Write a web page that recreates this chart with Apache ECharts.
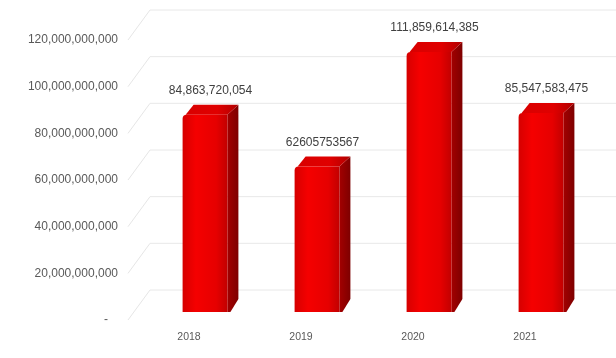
<!DOCTYPE html>
<html>
<head>
<meta charset="utf-8">
<script src="https://cdn.jsdelivr.net/npm/echarts@6/dist/echarts.min.js"></script>
<style>
  html, body { margin: 0; padding: 0; background: #ffffff; }
  #chart { width: 616px; height: 358px; }
</style>
</head>
<body>
<div id="chart"></div>
<script>
// Yearly totals
const years = ['2018', '2019', '2020', '2021'];
const totals = [84863720054, 62605753567, 111859614385, 85547583475];
// Value-axis ticks
const axisTicks = [0, 20000000000, 40000000000, 60000000000, 80000000000, 100000000000, 120000000000];

const fmt = v => v.toLocaleString('en-US');
// 2019 is printed without separators in its data label
const rawLabelYears = ['2019'];

const DEPTH_X = 11, DEPTH_Y = 10;      // bar extrusion
const WALL_X = 22, WALL_Y = 30;        // back-wall offset
const FONT = '"Liberation Sans", Arial, sans-serif';

const chart = echarts.init(document.getElementById('chart'), null, { renderer: 'canvas' });

function renderWall(params, api) {
  const p = api.coord([0, api.value(0)]);
  const x2 = p[0] + WALL_X, y2 = p[1] - WALL_Y;
  return {
    type: 'group',
    children: [
      { type: 'line', shape: { x1: p[0], y1: p[1], x2: x2, y2: y2 },
        style: { stroke: '#e6e6e6', lineWidth: 1 } },
      { type: 'line', shape: { x1: x2, y1: y2, x2: params.coordSys.x + params.coordSys.width, y2: y2 },
        style: { stroke: '#e8e8e8', lineWidth: 1 } }
    ]
  };
}

function renderBar(params, api) {
  const idx = api.value(0);
  const v = api.value(1);
  const top = api.coord([idx, v]);
  const base = api.coord([idx, 0]);
  const band = api.size([1, 0])[0];
  const w = band * 0.4;
  const left = top[0] - w / 2, right = top[0] + w / 2;
  const t = top[1], b = base[1];
  const label = rawLabelYears.indexOf(years[idx]) >= 0 ? String(v) : fmt(v);
  return {
    type: 'group',
    children: [
      { type: 'polygon',
        shape: { points: [[right, t], [right + DEPTH_X, t - DEPTH_Y], [right + DEPTH_X, b - DEPTH_Y - 3], [right + 3, b], [right, b]] },
        style: { fill: new echarts.graphic.LinearGradient(0, 0, 1, 0, [
          { offset: 0, color: '#a30000' }, { offset: 1, color: '#7e0000' }]) } },
      { type: 'polygon',
        shape: { points: [[left + 3, t], [left + DEPTH_X, t - DEPTH_Y], [right + DEPTH_X, t - DEPTH_Y], [right, t]] },
        style: { fill: new echarts.graphic.LinearGradient(0, 0, 1, 0, [
          { offset: 0, color: '#d90000' }, { offset: 0.6, color: '#e00000' }, { offset: 1, color: '#b00000' }]) } },
      { type: 'rect',
        shape: { x: left, y: t, width: w, height: b - t, r: [4, 0, 0, 0] },
        style: { fill: new echarts.graphic.LinearGradient(0, 0, 1, 0, [
          { offset: 0, color: '#d60000' }, { offset: 0.3, color: '#f50000' },
          { offset: 0.75, color: '#e60000' }, { offset: 1, color: '#c20000' }]) } },
      { type: 'text',
        style: { text: label, x: top[0] + DEPTH_X / 2, y: t - DEPTH_Y - 8,
          align: 'center', verticalAlign: 'bottom',
          fill: '#404040', font: '12px ' + FONT } }
    ]
  };
}

chart.setOption({
  animation: false,
  backgroundColor: '#ffffff',
  grid: [
    { left: 149, right: 19, top: 33, bottom: 46 },
    { left: 128, right: 0, top: 40, bottom: 38 }
  ],
  xAxis: [
    { type: 'category', gridIndex: 0, data: years,
      axisLine: { show: false }, axisTick: { show: false },
      axisLabel: { color: '#595959', fontSize: 10.5, fontFamily: FONT,
        margin: 20, padding: [0, 32, 0, 0] } },
    { type: 'value', gridIndex: 1, min: 0, max: 1, show: false }
  ],
  yAxis: [
    { type: 'value', gridIndex: 0, min: 0, max: 120000000000, interval: 20000000000, show: false },
    { type: 'value', gridIndex: 1, min: axisTicks[0], max: axisTicks[axisTicks.length - 1],
      interval: axisTicks[1] - axisTicks[0],
      axisLine: { show: false }, axisTick: { show: false }, splitLine: { show: false },
      axisLabel: { color: '#595959', fontSize: 12, fontFamily: FONT,
        margin: 10, formatter: v => (v === 0 ? '-   ' : fmt(v)) } }
  ],
  series: [
    { type: 'custom', xAxisIndex: 1, yAxisIndex: 1, silent: true, z: 1,
      renderItem: renderWall, data: axisTicks.map(v => [v]) },
    { type: 'custom', xAxisIndex: 0, yAxisIndex: 0, z: 2,
      renderItem: renderBar, data: totals.map((v, i) => [i, v]) }
  ]
});
</script>
</body>
</html>
